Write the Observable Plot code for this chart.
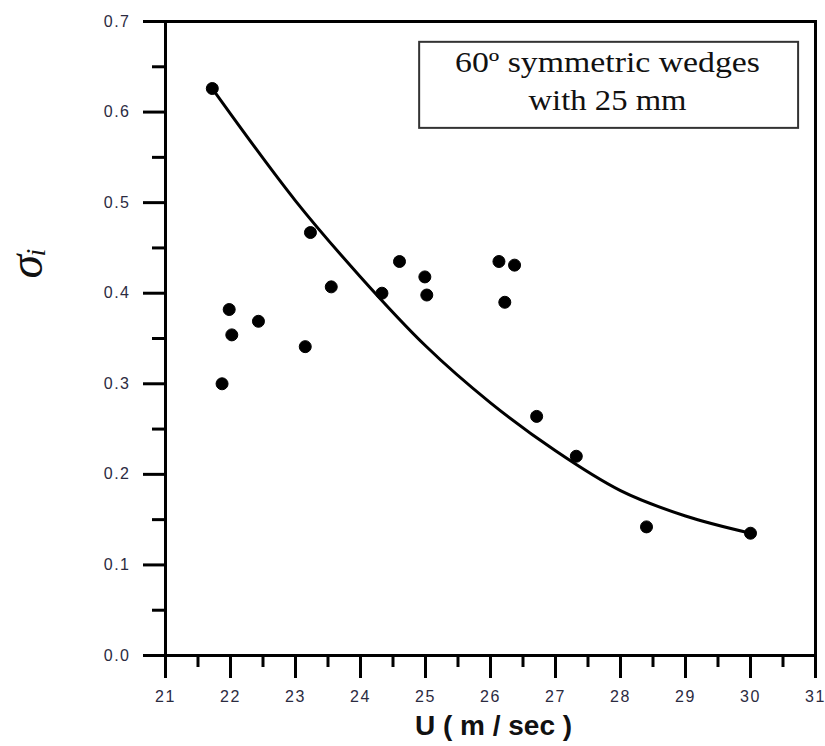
<!DOCTYPE html>
<html>
<head>
<meta charset="utf-8">
<script src="https://cdn.jsdelivr.net/npm/d3@7"></script>
<script src="https://cdn.jsdelivr.net/npm/@observablehq/plot@0.6"></script>
<style>
  html, body { margin: 0; padding: 0; background: #fff; }
  #chart svg { font-family: 'Liberation Sans', Arial, sans-serif; display: block; }
  #chart svg g[aria-label$="-axis tick"],
  #chart svg g[aria-label$="-axis tick"] path,
  #chart svg rect[aria-label="frame"],
  #chart svg g[aria-label="frame"] rect { stroke-width: 3px !important; stroke: #000 !important; }
  #chart svg g[aria-label$="tick label"] text { font-size: 16px !important; fill: #2b2b3f !important; letter-spacing: 1.5px; }
</style>
</head>
<body>
<div id="chart"></div>
<script>
// Measured points: U (m/sec) and sigma_i
const U =     [21.72, 21.87, 21.98, 22.02, 22.43, 23.15, 23.23, 23.55, 24.33, 24.60, 24.99, 25.02, 26.13, 26.22, 26.37, 26.71, 27.32, 28.40, 30.00];
const sigma = [0.626, 0.300, 0.382, 0.354, 0.369, 0.341, 0.467, 0.407, 0.400, 0.435, 0.418, 0.398, 0.435, 0.390, 0.431, 0.264, 0.220, 0.142, 0.135];

// Fitted curve
const fitU =     [21.72, 22, 23, 24, 25, 26, 27, 28, 29, 30];
const fitSigma = [0.626, 0.598, 0.502, 0.418, 0.342, 0.279, 0.226, 0.182, 0.154, 0.135];

// Axis ticks
const xMajor = [21, 22, 23, 24, 25, 26, 27, 28, 29, 30, 31];
const xMinor = [21.5, 22.5, 23.5, 24.5, 25.5, 26.5, 27.5, 28.5, 29.5, 30.5];
const yMajor = [0, 0.1, 0.2, 0.3, 0.4, 0.5, 0.6, 0.7];
const yMinor = [0.05, 0.15, 0.25, 0.35, 0.45, 0.55, 0.65];

// Texts
const xTitle = "U ( m / sec )";
const noteLines = ["60º symmetric wedges", "with 25 mm"];

const points = U.map((u, i) => ({u, s: sigma[i]}));
const fit = fitU.map((u, i) => ({u, s: fitSigma[i]}));

// annotation placement (data units)
const note = {x1: 24.91, x2: 30.74, y1: 0.582, y2: 0.677, xc: 27.8, yLine: [0.6437, 0.6018]};

const serif = "'Liberation Serif', 'Times New Roman', serif";
const xDom = [21, 31], yDom = [0, 0.7];

const plot = Plot.plot({
  width: 825,
  height: 746,
  marginLeft: 165,
  marginRight: 10,
  marginTop: 21,
  marginBottom: 91,
  x: {domain: xDom},
  y: {domain: yDom},
  marks: [
    Plot.axisX({ticks: xMajor, tickSize: 23, tickPadding: 12, strokeWidth: 3, fontSize: 16, label: null, tickFormat: d3.format("d")}),
    Plot.axisX({ticks: xMinor, tickSize: 12, strokeWidth: 3, label: null, tickFormat: () => ""}),
    Plot.axisY({ticks: yMajor, tickSize: 22, tickPadding: 13, strokeWidth: 3, fontSize: 16, label: null, tickFormat: d3.format(".1f")}),
    Plot.axisY({ticks: yMinor, tickSize: 13, strokeWidth: 3, label: null, tickFormat: () => ""}),
    Plot.frame({stroke: "black", strokeWidth: 3}),
    Plot.ruleX(xDom, {stroke: "black", strokeWidth: 3}),
    Plot.ruleY(yDom, {stroke: "black", strokeWidth: 3}),
    Plot.rect([note], {x1: "x1", x2: "x2", y1: "y1", y2: "y2", fill: "white", stroke: "#333", strokeWidth: 2}),
    Plot.text([noteLines[0]], {x: note.xc, y: note.yLine[0], text: d => d, lineAnchor: "bottom", fontSize: 29, fontFamily: serif, fill: "#111"}),
    Plot.text([noteLines[1]], {x: note.xc, y: note.yLine[1], text: d => d, lineAnchor: "bottom", fontSize: 29, fontFamily: serif, fill: "#111"}),
    Plot.line(fit, {x: "u", y: "s", curve: "monotone-x", stroke: "black", strokeWidth: 3}),
    Plot.dot(points, {x: "u", y: "s", r: 6, fill: "black", stroke: "black", strokeWidth: 1}),
    Plot.text([xTitle], {frameAnchor: "bottom", text: d => d, dy: 79, dx: 3, lineAnchor: "bottom", fontSize: 28, fontWeight: "bold", fill: "#111"}),
    Plot.text(["σ"], {frameAnchor: "left", text: d => d, dx: -124, dy: -60, rotate: -90, lineAnchor: "bottom", fontSize: 48, fontStyle: "italic", fontFamily: serif, fill: "#111"}),
    Plot.text(["i"], {frameAnchor: "left", text: d => d, dx: -121, dy: -82, rotate: -90, lineAnchor: "bottom", fontSize: 28, fontStyle: "italic", fontFamily: serif, fill: "#111"})
  ]
});

document.getElementById("chart").appendChild(plot);

const svg = d3.select(plot);
svg.selectAll("g").filter(function() {
  const a = this.getAttribute("aria-label") || "";
  return a.includes("tick") && !a.includes("label");
}).attr("stroke-width", 3);

// stretch note lines like the reference
const widths = {[noteLines[0]]: 305, [noteLines[1]]: 158};
svg.selectAll("text").filter(function() { return widths[this.textContent] !== undefined; })
  .each(function() {
    d3.select(this).attr("textLength", widths[this.textContent]).attr("lengthAdjust", "spacingAndGlyphs");
  });
</script>
</body>
</html>
